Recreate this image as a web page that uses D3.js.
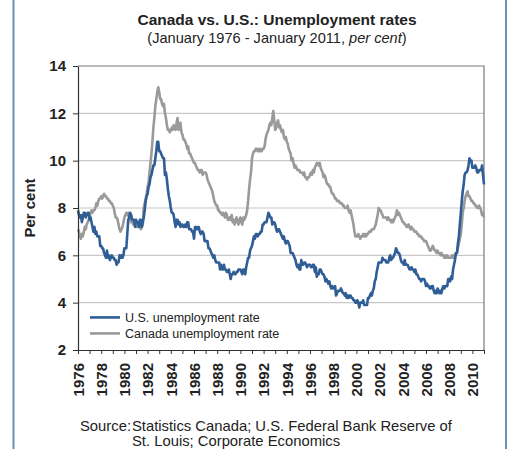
<!DOCTYPE html>
<html>
<head>
<meta charset="utf-8">
<script src="https://cdn.jsdelivr.net/npm/d3@7"></script>
<style>
    body { margin: 0; background: #fff; }
    svg { font-family: "Liberation Sans", Arial, sans-serif; }
</style>
</head>
<body>
<svg id="drawing_region"></svg>
<script>
// monthly rates, Jan 1976 .. Jan 2011 (one row per year)
const usRate = [
    7.9, 7.7, 7.6, 7.7, 7.4, 7.6, 7.8, 7.8, 7.6, 7.7, 7.8, 7.8,
    7.5, 7.6, 7.4, 7.2, 7.0, 7.2, 6.9, 7.0, 6.8, 6.8, 6.8, 6.4,
    6.4, 6.3, 6.3, 6.1, 6.0, 5.9, 6.2, 5.9, 6.0, 5.8, 5.9, 6.0,
    5.9, 5.9, 5.8, 5.8, 5.6, 5.7, 5.7, 6.0, 5.9, 6.0, 5.9, 6.0,
    6.3, 6.3, 6.3, 6.9, 7.5, 7.6, 7.8, 7.7, 7.5, 7.5, 7.5, 7.2,
    7.5, 7.4, 7.4, 7.2, 7.5, 7.5, 7.2, 7.4, 7.6, 7.9, 8.3, 8.5,
    8.6, 8.9, 9.0, 9.3, 9.4, 9.6, 9.8, 9.8, 10.1, 10.4, 10.8, 10.8,
    10.4, 10.4, 10.3, 10.2, 10.1, 10.1, 9.4, 9.5, 9.2, 8.8, 8.5, 8.3,
    8.0, 7.8, 7.8, 7.7, 7.4, 7.2, 7.5, 7.5, 7.3, 7.4, 7.2, 7.3,
    7.3, 7.2, 7.2, 7.3, 7.2, 7.4, 7.4, 7.1, 7.1, 7.1, 7.0, 7.0,
    6.7, 7.2, 7.2, 7.1, 7.2, 7.2, 7.0, 6.9, 7.0, 7.0, 6.9, 6.6,
    6.6, 6.6, 6.6, 6.3, 6.3, 6.2, 6.1, 6.0, 5.9, 6.0, 5.8, 5.7,
    5.7, 5.7, 5.7, 5.4, 5.6, 5.4, 5.4, 5.6, 5.4, 5.4, 5.3, 5.3,
    5.4, 5.2, 5.0, 5.2, 5.2, 5.3, 5.2, 5.2, 5.3, 5.3, 5.4, 5.4,
    5.4, 5.3, 5.2, 5.4, 5.4, 5.2, 5.5, 5.7, 5.9, 5.9, 6.2, 6.3,
    6.4, 6.6, 6.8, 6.7, 6.9, 6.9, 6.8, 6.9, 6.9, 7.0, 7.0, 7.3,
    7.3, 7.4, 7.4, 7.4, 7.6, 7.8, 7.7, 7.6, 7.6, 7.3, 7.4, 7.4,
    7.3, 7.1, 7.0, 7.1, 7.1, 7.0, 6.9, 6.8, 6.7, 6.8, 6.6, 6.5,
    6.6, 6.6, 6.5, 6.4, 6.1, 6.1, 6.1, 6.0, 5.9, 5.8, 5.6, 5.5,
    5.6, 5.4, 5.4, 5.8, 5.6, 5.6, 5.7, 5.7, 5.6, 5.5, 5.6, 5.6,
    5.6, 5.5, 5.5, 5.6, 5.6, 5.3, 5.5, 5.1, 5.2, 5.2, 5.4, 5.4,
    5.3, 5.2, 5.2, 5.1, 4.9, 5.0, 4.9, 4.8, 4.9, 4.7, 4.6, 4.7,
    4.6, 4.6, 4.7, 4.3, 4.4, 4.5, 4.5, 4.5, 4.6, 4.5, 4.4, 4.4,
    4.3, 4.4, 4.2, 4.3, 4.2, 4.3, 4.3, 4.2, 4.2, 4.1, 4.1, 4.0,
    4.0, 4.1, 4.0, 3.8, 4.0, 4.0, 4.0, 4.1, 3.9, 3.9, 3.9, 3.9,
    4.2, 4.2, 4.3, 4.4, 4.3, 4.5, 4.6, 4.9, 5.0, 5.3, 5.5, 5.7,
    5.7, 5.7, 5.7, 5.9, 5.8, 5.8, 5.8, 5.7, 5.7, 5.7, 5.9, 6.0,
    5.8, 5.9, 5.9, 6.0, 6.1, 6.3, 6.2, 6.1, 6.1, 6.0, 5.8, 5.7,
    5.7, 5.6, 5.8, 5.6, 5.6, 5.6, 5.5, 5.4, 5.4, 5.5, 5.4, 5.4,
    5.3, 5.4, 5.2, 5.2, 5.1, 5.0, 5.0, 4.9, 5.0, 5.0, 5.0, 4.9,
    4.7, 4.8, 4.7, 4.7, 4.6, 4.6, 4.7, 4.7, 4.5, 4.4, 4.5, 4.4,
    4.6, 4.5, 4.4, 4.5, 4.4, 4.6, 4.7, 4.6, 4.7, 4.7, 4.7, 5.0,
    5.0, 4.9, 5.1, 5.0, 5.4, 5.6, 5.8, 6.1, 6.1, 6.5, 6.8, 7.3,
    7.8, 8.3, 8.7, 9.0, 9.4, 9.5, 9.5, 9.6, 9.8, 10.1, 10.0, 10.0,
    9.7, 9.7, 9.7, 9.8, 9.7, 9.5, 9.5, 9.6, 9.6, 9.6, 9.8, 9.4,
    9.0
];

const canadaRate = [
    7.1, 7.0, 6.8, 6.7, 6.9, 6.8, 7.0, 7.2, 7.1, 7.3, 7.4, 7.5,
    7.6, 7.8, 7.9, 7.8, 7.9, 7.9, 8.0, 8.2, 8.1, 8.3, 8.4, 8.4,
    8.5, 8.4, 8.5, 8.6, 8.5, 8.5, 8.4, 8.4, 8.3, 8.3, 8.2, 8.2,
    8.1, 8.0, 7.8, 7.6, 7.6, 7.5, 7.3, 7.1, 7.0, 7.1, 7.2, 7.4,
    7.6, 7.7, 7.8, 7.7, 7.8, 7.6, 7.5, 7.4, 7.5, 7.3, 7.4, 7.3,
    7.3, 7.2, 7.4, 7.2, 7.3, 7.1, 7.2, 7.3, 8.0, 8.2, 8.4, 8.6,
    8.9, 9.1, 9.5, 9.9, 10.3, 10.8, 11.4, 11.8, 12.3, 12.6, 12.9, 13.1,
    12.9, 12.6, 12.6, 12.4, 12.3, 12.4, 12.0, 11.8, 11.5, 11.3, 11.3, 11.2,
    11.3, 11.4, 11.3, 11.5, 11.4, 11.3, 11.6, 11.8, 11.3, 11.5, 11.6, 11.2,
    11.1, 10.9, 10.9, 10.8, 10.7, 10.5, 10.6, 10.3, 10.3, 10.2, 10.1, 10.0,
    9.9, 9.9, 9.8, 9.7, 9.6, 9.6, 9.5, 9.6, 9.6, 9.4, 9.5, 9.5,
    9.5, 9.4, 9.2, 9.1, 9.0, 8.9, 8.8, 8.7, 8.5, 8.3, 8.2, 8.1,
    8.1, 7.9, 7.9, 7.8, 7.8, 7.7, 7.8, 7.7, 7.6, 7.8, 7.7, 7.5,
    7.5, 7.6, 7.5, 7.7, 7.4, 7.5, 7.3, 7.5, 7.6, 7.4, 7.3, 7.5,
    7.6, 7.4, 7.3, 7.6, 7.5, 7.6, 7.7, 7.9, 8.3, 8.8, 9.2, 9.5,
    10.1, 10.3, 10.4, 10.4, 10.5, 10.5, 10.4, 10.5, 10.4, 10.5, 10.4, 10.5,
    10.5, 10.6, 10.9, 11.1, 11.2, 11.3, 11.5, 11.6, 11.5, 11.8, 12.1, 11.7,
    11.3, 11.4, 11.6, 11.7, 11.4, 11.5, 11.3, 11.2, 11.3, 11.0, 10.9, 11.0,
    10.8, 10.7, 10.5, 10.4, 10.3, 10.0, 10.1, 9.9, 9.7, 9.8, 9.7, 9.6,
    9.6, 9.6, 9.5, 9.5, 9.5, 9.4, 9.5, 9.3, 9.3, 9.2, 9.3, 9.3,
    9.4, 9.5, 9.4, 9.6, 9.5, 9.7, 9.8, 9.9, 9.9, 9.8, 9.9, 9.7,
    9.6, 9.5, 9.3, 9.4, 9.3, 9.1, 9.0, 9.0, 8.9, 8.9, 8.7, 8.6,
    8.6, 8.5, 8.4, 8.4, 8.3, 8.3, 8.3, 8.2, 8.2, 8.2, 8.1, 8.1,
    8.0, 8.0, 8.0, 8.1, 7.9, 7.8, 7.9, 7.7, 7.5, 7.3, 7.0, 6.8,
    6.8, 6.8, 6.9, 6.8, 6.7, 6.8, 6.8, 6.9, 6.8, 6.9, 6.8, 6.9,
    6.9, 7.0, 7.0, 7.0, 7.1, 7.1, 7.1, 7.2, 7.3, 7.5, 7.7, 8.0,
    7.9, 7.9, 7.8, 7.7, 7.6, 7.6, 7.6, 7.6, 7.5, 7.6, 7.5, 7.5,
    7.4, 7.5, 7.4, 7.5, 7.6, 7.7, 7.9, 7.7, 7.8, 7.7, 7.6, 7.5,
    7.4, 7.4, 7.3, 7.3, 7.2, 7.2, 7.3, 7.2, 7.1, 7.2, 7.1, 7.1,
    7.0, 7.0, 7.0, 6.9, 6.9, 6.8, 6.8, 6.8, 6.7, 6.7, 6.6, 6.6,
    6.6, 6.5, 6.4, 6.3, 6.2, 6.2, 6.3, 6.4, 6.3, 6.2, 6.2, 6.1,
    6.2, 6.1, 6.1, 6.0, 6.1, 6.0, 6.0, 5.9, 6.0, 5.9, 6.0, 5.9,
    5.9, 5.9, 5.9, 6.0, 5.9, 6.0, 6.0, 6.1, 6.1, 6.3, 6.5, 6.7,
    6.9, 7.3, 7.8, 8.0, 8.3, 8.5, 8.6, 8.7, 8.5, 8.5, 8.4, 8.3,
    8.3, 8.2, 8.2, 8.1, 8.1, 8.0, 8.0, 8.1, 8.0, 7.9, 7.7, 7.8,
    7.6
];

const seriesNames = ["U.S. unemployment rate", "Canada unemployment rate"];
const seriesColors = ["#2f5d96", "#9a9a9a"];
const yTickValues = [2, 4, 6, 8, 10, 12, 14];
const yGridValues = [4, 6, 8, 10, 12];
const xLabelYears = [1976, 1978, 1980, 1982, 1984, 1986, 1988, 1990, 1992,
                     1994, 1996, 1998, 2000, 2002, 2004, 2006, 2008, 2010];
const startYear = 1976;

class LineChart {

    constructor( config, series ) {
        this.config = config;
        this.series = series;
        this.init();
    }

    init() {
        let self = this;
        const m = self.config.margin;

        self.svg = d3.select( self.config.parent )
            .attr('width', self.config.width)
            .attr('height', self.config.height);

        self.inner_width = self.config.width - m.left - m.right;
        self.inner_height = self.config.height - m.top - m.bottom;

        // outer frame (left and right edges only)
        self.svg.append('line')
            .attr('x1', 13.5).attr('x2', 13.5).attr('y1', 0).attr('y2', self.config.height)
            .attr('stroke', '#6c8fb3').attr('stroke-width', 2);
        self.svg.append('line')
            .attr('x1', 506).attr('x2', 506).attr('y1', 0).attr('y2', self.config.height)
            .attr('stroke', '#6c8fb3').attr('stroke-width', 2);

        self.chart = self.svg.append('g')
            .attr('transform', `translate(${m.left}, ${m.top})`);

        self.xscale = d3.scaleTime()
            .domain([new Date(startYear, 0, 1), new Date(2011, 0, 1)])
            .range([0, self.inner_width]);

        self.yscale = d3.scaleLinear()
            .domain([2, 14])
            .range([self.inner_height, 0]);

        self.svg.append('text')
            .attr('x', 277).attr('y', 25)
            .attr('text-anchor', 'middle')
            .attr('font-size', '15.5px')
            .attr('font-weight', 'bold')
            .attr('fill', '#222')
            .text('Canada vs. U.S.: Unemployment rates');

        const sub = self.svg.append('text')
            .attr('x', 277).attr('y', 43)
            .attr('text-anchor', 'middle')
            .attr('font-size', '14.6px')
            .attr('fill', '#222');
        sub.append('tspan').text('(January 1976 - January 2011, ');
        sub.append('tspan').attr('font-style', 'italic').text('per cent');
        sub.append('tspan').text(')');

        self.svg.append('text')
            .attr('transform', `translate(35, ${m.top + self.inner_height / 2}) rotate(-90)`)
            .attr('text-anchor', 'middle')
            .attr('font-size', '15px')
            .attr('font-weight', 'bold')
            .attr('fill', '#222')
            .text('Per cent');

        self.line = d3.line()
            .x( (d, i) => self.xscale(new Date(startYear, i, 1)) )
            .y( d => self.yscale(d) );
    }

    render() {
        let self = this;

        self.chart.append('g')
            .selectAll('line')
            .data(yGridValues)
            .join('line')
            .attr('x1', 0).attr('x2', self.inner_width)
            .attr('y1', d => self.yscale(d)).attr('y2', d => self.yscale(d))
            .attr('stroke', '#c8c8c8').attr('stroke-width', 1.2);

        // plot border top/right
        self.chart.append('path')
            .attr('d', `M0,${self.yscale(14)}H${self.inner_width}V${self.inner_height}`)
            .attr('fill', 'none').attr('stroke', '#7a7a7a').attr('stroke-width', 1.2);

        // grey (Canada) drawn first so the blue line sits on top
        self.chart.selectAll('.series')
            .data(self.series.slice().reverse())
            .join('path')
            .attr('class', 'series')
            .attr('d', d => self.line(d.values))
            .attr('fill', 'none')
            .attr('stroke', d => d.color)
            .attr('stroke-width', 2.6)
            .attr('stroke-linejoin', 'round');

        const yaxis = d3.axisLeft( self.yscale )
            .tickValues(yTickValues)
            .tickSize(5)
            .tickPadding(7)
            .tickSizeOuter(0);
        const yg = self.chart.append('g').call(yaxis);
        yg.selectAll('text')
            .attr('font-size', '15px').attr('font-weight', 'bold').attr('fill', '#222');

        const xaxis = d3.axisBottom( self.xscale )
            .ticks(d3.timeYear.every(1))
            .tickSize(4)
            .tickFormat( d => xLabelYears.includes(d.getFullYear()) ? d.getFullYear() : '' )
            .tickSizeOuter(0);
        const xg = self.chart.append('g')
            .attr('transform', `translate(0, ${self.inner_height})`)
            .call(xaxis);
        xg.selectAll('text')
            .attr('font-size', '15px').attr('font-weight', 'bold').attr('fill', '#222')
            .attr('transform', 'rotate(-90)')
            .attr('text-anchor', 'end')
            .attr('x', -13).attr('y', 0).attr('dy', '0.35em');

        [yg, xg].forEach(g => {
            g.select('.domain').attr('stroke', '#333').attr('stroke-width', 1.2);
            g.selectAll('.tick line').attr('stroke', '#333');
        });

        // legend
        const legend = self.chart.append('g')
            .attr('transform', `translate(12, ${self.yscale(2.7)})`);
        const rows = legend.selectAll('g')
            .data(self.series)
            .join('g')
            .attr('transform', (d, i) => `translate(0, ${i * 16 - 16})`);
        rows.append('line')
            .attr('x1', 0).attr('x2', 30)
            .attr('stroke', d => d.color).attr('stroke-width', 2.6);
        rows.append('text')
            .attr('x', 35).attr('dy', '0.35em')
            .attr('font-size', '12.5px').attr('fill', '#222')
            .text(d => d.name);

        // source note
        const src = self.svg.append('g').attr('font-size', '14.8px').attr('fill', '#222');
        src.append('text').attr('x', 80).attr('y', 431).text('Source:');
        src.append('text').attr('x', 132).attr('y', 431)
            .text('Statistics Canada; U.S. Federal Bank Reserve of');
        src.append('text').attr('x', 132).attr('y', 446)
            .text('St. Louis; Corporate Economics');
    }
}

const config = {
    parent: '#drawing_region',
    width: 510,
    height: 449,
    margin: {top: 66, right: 26, bottom: 99, left: 78}
};

const series = [
    {name: seriesNames[0], color: seriesColors[0], values: usRate},
    {name: seriesNames[1], color: seriesColors[1], values: canadaRate}
];

const line_chart = new LineChart( config, series );
line_chart.render();
</script>
</body>
</html>
